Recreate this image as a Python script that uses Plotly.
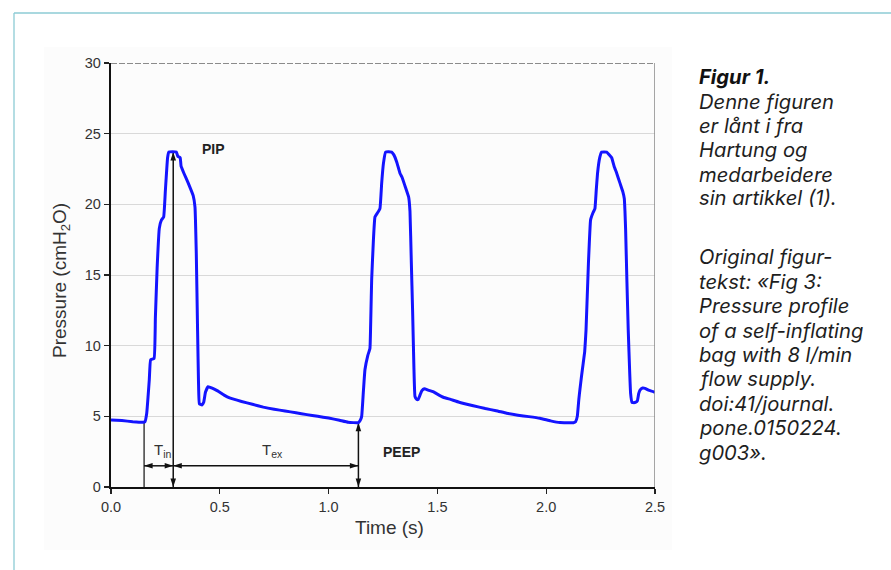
import plotly.graph_objects as go

# ---------------- data ----------------
time_c1 = [0.000, 0.050, 0.100, 0.147, 0.156, 0.164, 0.176, 0.182, 0.198, 0.204,
           0.212, 0.222, 0.232, 0.242, 0.250, 0.260, 0.266, 0.300, 0.307, 0.318,
           0.322, 0.335, 0.355, 0.378, 0.386, 0.392, 0.398, 0.402, 0.406, 0.418,
           0.426, 0.434, 0.446, 0.465, 0.490, 0.520, 0.545, 0.600, 0.650, 0.700,
           0.750, 0.800, 0.850, 0.900, 0.950, 1.000, 1.050, 1.090, 1.137]
pres_c1 = [4.74, 4.70, 4.62, 4.58, 4.62, 5.2, 7.6, 9.0, 9.1, 12.0,
           15.5, 18.3, 18.9, 19.1, 21.0, 23.3, 23.7, 23.7, 23.4, 23.3,
           22.7, 22.2, 21.5, 20.6, 19.8, 16.5, 11.0, 7.5, 5.9, 5.8,
           6.0, 6.7, 7.1, 7.0, 6.8, 6.5, 6.3, 6.05, 5.85, 5.65,
           5.5, 5.38, 5.25, 5.12, 5.0, 4.88, 4.72, 4.58, 4.55]

time_c2 = [1.145, 1.152, 1.160, 1.167, 1.180, 1.190, 1.194, 1.198, 1.206, 1.213,
           1.225, 1.236, 1.244, 1.252, 1.262, 1.290, 1.300, 1.313, 1.328, 1.338,
           1.351, 1.368, 1.374, 1.380, 1.386, 1.392, 1.397, 1.405, 1.412, 1.420,
           1.428, 1.440, 1.458, 1.480, 1.497, 1.527, 1.560, 1.600, 1.665, 1.720,
           1.770, 1.818, 1.870, 1.920, 1.971, 2.020, 2.063, 2.125, 2.135, 2.143]
pres_c2 = [4.7, 5.0, 6.8, 8.3, 9.3, 9.8, 12.0, 14.7, 17.5, 19.1,
           19.4, 19.7, 21.5, 22.9, 23.7, 23.7, 23.5, 23.0, 22.2, 21.9,
           21.3, 20.5, 19.5, 16.0, 12.5, 8.5, 6.4, 6.2, 6.2, 6.5,
           6.8, 6.95, 6.85, 6.75, 6.6, 6.35, 6.2, 6.0, 5.75, 5.55,
           5.4, 5.22, 5.08, 4.98, 4.86, 4.68, 4.56, 4.55, 4.62, 5.0]

time_c3 = [2.150, 2.155, 2.162, 2.170, 2.177, 2.183, 2.194, 2.204, 2.215, 2.224,
           2.230, 2.236, 2.246, 2.255, 2.278, 2.290, 2.301, 2.312, 2.324, 2.339,
           2.352, 2.359, 2.362, 2.365, 2.371, 2.377, 2.384, 2.388, 2.394, 2.400,
           2.412, 2.419, 2.425, 2.431, 2.443, 2.454, 2.470, 2.492, 2.500]
pres_c3 = [6.2, 6.9, 7.8, 8.75, 9.6, 11.1, 15.8, 18.9, 19.4, 19.7,
           21.0, 22.2, 23.3, 23.7, 23.7, 23.5, 23.3, 22.7, 22.2, 21.5,
           20.9, 20.4, 19.5, 18.2, 14.5, 11.1, 8.0, 6.6, 6.0, 5.97,
           6.0, 6.1, 6.6, 6.86, 7.0, 6.98, 6.85, 6.75, 6.7]

x_ticks = [0.0, 0.5, 1.0, 1.5, 2.0, 2.5]
x_tick_labels = ["0.0", "0.5", "1.0", "1.5", "2.0", "2.5"]
y_ticks = [0, 5, 10, 15, 20, 25, 30]
y_tick_labels = ["0", "5", "10", "15", "20", "25", "30"]

# annotation anchors (time in s, pressure in cmH2O)
t_insp_start = 0.152
t_pip = 0.286
t_exp_end = 1.137
pip_value = 23.7
peep_value = 4.55
insp_start_value = 4.58
interval_arrow_level = 1.5

caption_lines = ["Denne figuren", "er lånt i fra", "Hartung og", "medarbeidere",
                 "sin artikkel (1)."]
original_lines = ["Original figur-", "tekst: «Fig 3:", "Pressure profile",
                  "of a self-inflating", "bag with 8 l/min", "flow supply.",
                  "doi:41/journal.", "pone.0150224.", "g003»."]

# ---------------- figure ----------------
W, H = 891, 570
def px(x):
    return x / W
def py(y):
    return 1 - y / H

time_s = time_c1 + time_c2 + time_c3
pressure = pres_c1 + pres_c2 + pres_c3

FONT = "Liberation Sans, Arial, sans-serif"
TXT = "#333333"
INK = "#111111"

fig = go.Figure()

# plain marker line at start of inspiration
fig.add_trace(go.Scatter(x=[t_insp_start, t_insp_start], y=[0, insp_start_value],
                         mode="lines", line=dict(color=INK, width=1.2),
                         hoverinfo="skip", showlegend=False))

# double-headed arrows: (x0, y0) -> (x1, y1), heads at both ends
def double_arrow(x0, y0, x1, y1):
    if x0 == x1:
        angles = [180, 0] if y1 > y0 else [0, 180]
    else:
        angles = [270, 90] if x1 > x0 else [90, 270]
    fig.add_trace(go.Scatter(x=[x0, x1], y=[y0, y1], mode="lines+markers",
                             line=dict(color=INK, width=1.5),
                             marker=dict(symbol="arrow", size=9, angle=angles,
                                         color=INK, line=dict(width=0)),
                             cliponaxis=False, hoverinfo="skip", showlegend=False))

double_arrow(t_pip, 0, t_pip, pip_value)
double_arrow(t_exp_end, 0, t_exp_end, peep_value)
double_arrow(t_insp_start, interval_arrow_level, t_pip, interval_arrow_level)
double_arrow(t_pip, interval_arrow_level, t_exp_end, interval_arrow_level)

fig.add_trace(go.Scatter(x=time_s, y=pressure, mode="lines",
                         line=dict(color="#1414ff", width=3, shape="spline", smoothing=0.3),
                         hoverinfo="skip", showlegend=False))

fig.update_layout(
    width=W, height=H,
    margin=dict(l=0, r=0, t=0, b=0, pad=0, autoexpand=False),
    paper_bgcolor="white", plot_bgcolor="white",
    showlegend=False,
    font=dict(family=FONT, color=TXT),
    xaxis=dict(domain=[px(111), px(655)], range=[0, 2.5],
               tickvals=x_ticks, ticktext=x_tick_labels,
               ticks="outside", ticklen=5, tickwidth=1.2, tickcolor="#222",
               showline=True, linecolor=INK, linewidth=2.2,
               showgrid=False, zeroline=False, automargin=False,
               tickfont=dict(size=14.5, color=TXT, family=FONT)),
    yaxis=dict(domain=[py(487), py(63)], range=[0, 30],
               tickvals=y_ticks, ticktext=y_tick_labels,
               ticks="outside", ticklen=5, tickwidth=1.2, tickcolor="#222",
               showline=True, linecolor=INK, linewidth=2.2,
               showgrid=True, gridcolor="#d9d9d9", gridwidth=1,
               zeroline=False, automargin=False,
               tickfont=dict(size=14.5, color=TXT, family=FONT)),
)

shapes = [
    # faint background of the embedded chart image
    dict(type="rect", xref="paper", yref="paper", x0=px(44), x1=px(672), y0=py(550), y1=py(47),
         fillcolor="#fcfcfc", line=dict(width=0), layer="below"),
    # teal page frame
    dict(type="line", xref="paper", yref="paper", x0=px(14), x1=1, y0=py(13), y1=py(13),
         line=dict(color="#8ccbd4", width=1.3), layer="below"),
    dict(type="line", xref="paper", yref="paper", x0=px(14), x1=px(14), y0=0, y1=py(13),
         line=dict(color="#8ccbd4", width=1.3), layer="below"),
    # top (dashed) and right frame of the plot box
    dict(type="line", xref="x", yref="y", x0=0, x1=2.5, y0=30, y1=30,
         line=dict(color="#666", width=1.6, dash="6px,2px")),
    dict(type="line", xref="x", yref="y", x0=2.5, x1=2.5, y0=0, y1=30,
         line=dict(color="#888", width=1.5)),
]
fig.update_layout(shapes=shapes)

ann = []
def label(x, y, text, size=14, bold=False):
    ann.append(dict(x=x, y=y, xref="x", yref="y", showarrow=False,
                    text=f"<b>{text}</b>" if bold else text,
                    font=dict(size=size, color="#222" if bold else TXT, family=FONT),
                    xanchor="center", yanchor="middle"))

label(0.473, 23.9, "PIP", 14, True)
label(1.333, 2.48, "PEEP", 14, True)
label(0.24, 2.55, "T<sub>in</sub>", 15)
label(0.74, 2.55, "T<sub>ex</sub>", 15)

# axis titles
ann.append(dict(x=px(389), y=py(527), xref="paper", yref="paper", showarrow=False,
                text="Time (s)", font=dict(size=19, color=TXT, family=FONT),
                xanchor="center", yanchor="middle"))
ann.append(dict(x=px(61), y=py(280), xref="paper", yref="paper", showarrow=False,
                text="Pressure (cmH<sub>2</sub>O)", textangle=-90,
                font=dict(size=19, color=TXT, family=FONT),
                xanchor="center", yanchor="middle"))

# caption on the right
CAP_FONT = "Inter, Noto Sans, sans-serif"
CAP_SIZE = 20.2
ann.append(dict(x=px(697), y=py(77), xref="paper", yref="paper", showarrow=False,
                text="<b><i>Figur 1.</i></b>", font=dict(size=CAP_SIZE, color="#111", family=CAP_FONT),
                xanchor="left", yanchor="middle"))
cap_y = [101.5, 125.5, 150, 174, 198]
for yy, line in zip(cap_y, caption_lines):
    ann.append(dict(x=px(697), y=py(yy), xref="paper", yref="paper", showarrow=False,
                    text=f"<i>{line}</i>", font=dict(size=CAP_SIZE, color="#1e1e1e", family=CAP_FONT),
                    xanchor="left", yanchor="middle"))
orig_y = [256, 281, 305, 330, 354.5, 378.5, 403, 427, 452]
for yy, line in zip(orig_y, original_lines):
    ann.append(dict(x=px(697), y=py(yy), xref="paper", yref="paper", showarrow=False,
                    text=f"<i>{line}</i>", font=dict(size=CAP_SIZE, color="#1e1e1e", family=CAP_FONT),
                    xanchor="left", yanchor="middle"))

fig.update_layout(annotations=ann)
fig.write_html("out.html", config={"displayModeBar": False, "staticPlot": True},
               post_script="document.body.style.margin='0px';")
